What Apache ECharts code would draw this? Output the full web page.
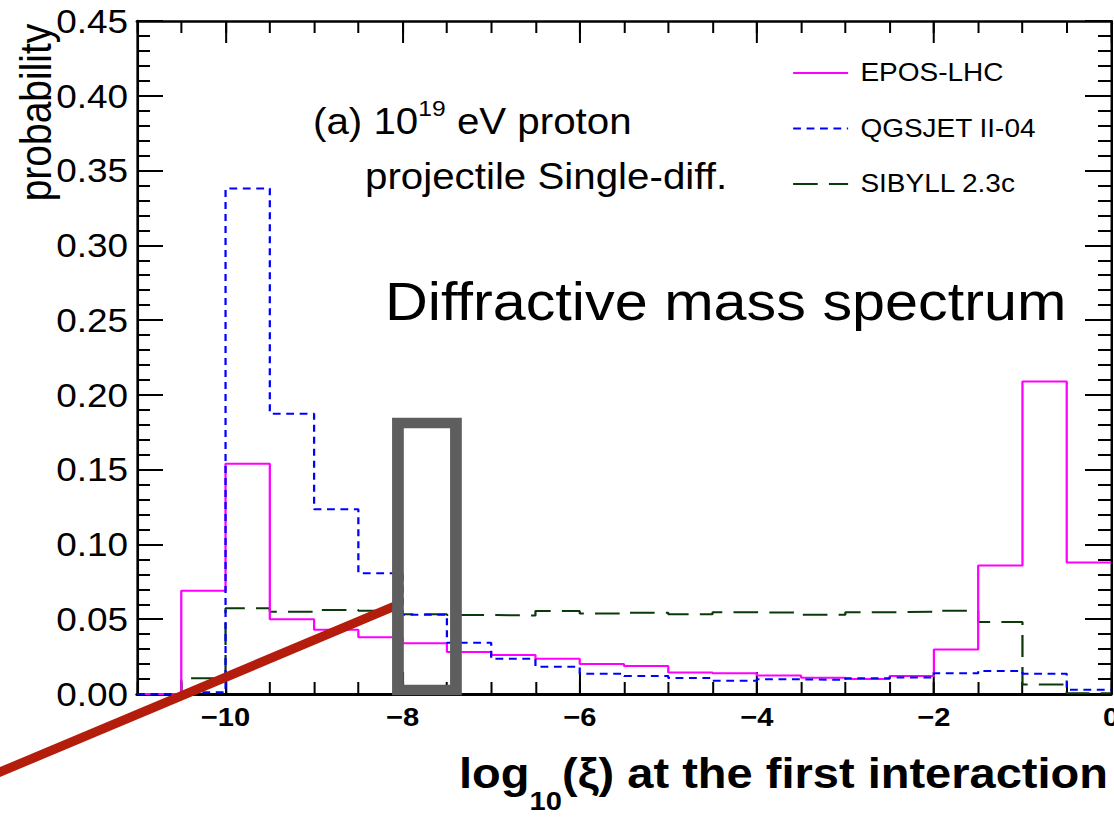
<!DOCTYPE html>
<html><head><meta charset="utf-8">
<script src="https://cdn.jsdelivr.net/npm/echarts@6/dist/echarts.min.js"></script>
<style>
html,body{margin:0;padding:0;background:#fff;overflow:hidden;}
#wrap{width:1114px;height:817px;overflow:hidden;position:relative;}
#c{width:995px;height:817px;transform:scaleX(1.119598);transform-origin:0 0;}
</style></head>
<body><div id="wrap"><div id="c"></div></div>
<script>
// ---------- data ----------
const binEdges = [-11, -10.5, -10, -9.5, -9, -8.5, -8, -7.5, -7, -6.5, -6, -5.5, -5, -4.5, -4, -3.5, -3, -2.5, -2, -1.5, -1, -0.5, 0];
const seriesNames = ['EPOS-LHC', 'QGSJET II-04', 'SIBYLL 2.3c'];
const eposLHC = [0.0, 0.069, 0.154, 0.050, 0.043, 0.038, 0.034, 0.028, 0.026, 0.0236, 0.0201, 0.0187, 0.0143, 0.0138, 0.0123, 0.0109, 0.0100, 0.0120, 0.0298, 0.086, 0.209, 0.088];
const qgsjet  = [0.0, 0.0011, 0.338, 0.1874, 0.1235, 0.0807, 0.0530, 0.0343, 0.0235, 0.0183, 0.0136, 0.0120, 0.0107, 0.0089, 0.0098, 0.0094, 0.0105, 0.0111, 0.0138, 0.0154, 0.0136, 0.0029];
const sibyll  = [0.0, 0.0105, 0.0573, 0.0550, 0.0562, 0.0557, 0.0533, 0.0528, 0.0525, 0.0555, 0.0539, 0.0544, 0.0533, 0.0546, 0.0544, 0.0530, 0.0546, 0.0550, 0.0557, 0.0482, 0.0064, 0.0005];
const xMajorTicks = [-10, -8, -6, -4, -2, 0];
const yTickValues = [0, 0.05, 0.10, 0.15, 0.20, 0.25, 0.30, 0.35, 0.40, 0.45];
const xTitle = ['log', '10', '(\u03BE) at the first interaction'];
const yTitle = 'probability';
const noteLines = ['(a) 10', '19', ' eV proton', 'projectile Single-diff.'];
const bigTitle = 'Diffractive mass spectrum';
// annotation overlays in data coordinates
const redLine = [[-12.62, -0.054], [-8.06, 0.0595]];
const greyBoxX = [-8.053, -7.398];
const greyBoxY = [0.0027, 0.1812];

// ---------- chart ----------
const S = 1114 / 995;
const FONT = 'Liberation Sans, Arial, Helvetica, sans-serif';
const chart = echarts.init(document.getElementById('c'), null, {renderer: 'svg'});

function hist(vals) {
  const d = vals.map((v, i) => [binEdges[i], v]);
  d.push([binEdges[binEdges.length - 1], vals[vals.length - 1]]);
  return d;
}
const minus = v => (v < 0 ? '\u2212' + Math.abs(v) : String(v));

const xBase = {type: 'value', min: binEdges[0], max: binEdges[binEdges.length - 1], interval: 0.5,
  splitLine: {show: false}, axisPointer: {show: false}};
const yBase = {type: 'value', min: yTickValues[0], max: yTickValues[yTickValues.length - 1], interval: 0.05,
  splitLine: {show: false}, minorSplitLine: {show: false}};

const option = {
  animation: false,
  backgroundColor: '#fff',
  grid: {left: 137 / S, top: 21, width: 974 / S, height: 673, containLabel: false, outerBoundsMode: 'none'},
  legend: {
    orient: 'vertical', left: 792 / S, top: 59, padding: 0, itemWidth: 55 / S, itemHeight: 12, itemGap: 27.5,
    selectedMode: false, data: seriesNames,
    itemStyle: {opacity: 0},
    textStyle: {fontFamily: FONT, fontSize: 25, color: '#000', lineHeight: 28, padding: [0, 0, 0, 6]}
  },
  xAxis: [
    Object.assign({}, xBase, {position: 'bottom',
      axisLine: {show: true, onZero: false, lineStyle: {color: '#000', width: 3}},
      axisTick: {show: true, inside: true, length: 12, lineStyle: {color: '#000', width: 1.8}},
      axisLabel: {show: false}}),
    Object.assign({}, xBase, {position: 'bottom',
      axisLine: {show: false, onZero: false},
      axisTick: {show: true, inside: true, length: 22, customValues: xMajorTicks, lineStyle: {color: '#000', width: 1.8}},
      axisLabel: {show: true, customValues: xMajorTicks, formatter: minus, margin: 10, showMaxLabel: true, showMinLabel: true,
        fontFamily: FONT, fontWeight: 'bold', fontSize: 26, color: '#000'}}),
    Object.assign({}, xBase, {position: 'top',
      axisLine: {show: true, onZero: false, lineStyle: {color: '#000', width: 2.5}},
      axisTick: {show: true, inside: true, length: 12, lineStyle: {color: '#000', width: 1.8}},
      axisLabel: {show: false}}),
    Object.assign({}, xBase, {position: 'top',
      axisLine: {show: false, onZero: false},
      axisTick: {show: true, inside: true, length: 22, customValues: xMajorTicks, lineStyle: {color: '#000', width: 1.8}},
      axisLabel: {show: false}})
  ],
  yAxis: [
    Object.assign({}, yBase, {position: 'left',
      axisLine: {show: true, onZero: false, lineStyle: {color: '#000', width: 2.4}},
      axisTick: {show: true, inside: true, length: 26 / S, lineStyle: {color: '#000', width: 2}},
      minorTick: {show: true, splitNumber: 5, length: 13 / S, lineStyle: {color: '#000', width: 2}},
      axisLabel: {show: true, margin: 8, formatter: v => v.toFixed(2), showMaxLabel: true, showMinLabel: true,
        fontFamily: FONT, fontSize: 33, color: '#000', padding: [6, 0, 0, 0]}}),
    Object.assign({}, yBase, {position: 'right',
      axisLine: {show: true, onZero: false, lineStyle: {color: '#000', width: 2.2}},
      axisTick: {show: true, inside: true, length: 26 / S, lineStyle: {color: '#000', width: 2}},
      minorTick: {show: true, splitNumber: 5, length: 13 / S, lineStyle: {color: '#000', width: 2}},
      axisLabel: {show: false}})
  ],
  series: [
    {name: seriesNames[0], type: 'line', step: 'end', symbol: 'none', xAxisIndex: 0, yAxisIndex: 0,
      data: hist(eposLHC), color: '#ff00ff', lineStyle: {color: '#ff00ff', width: 2, type: 'solid'}, z: 3},
    {name: seriesNames[1], type: 'line', step: 'end', symbol: 'none', xAxisIndex: 0, yAxisIndex: 0,
      data: hist(qgsjet), color: '#0000ff', lineStyle: {color: '#0000ff', width: 2, type: [7, 5]}, z: 4},
    {name: seriesNames[2], type: 'line', step: 'end', symbol: 'none', xAxisIndex: 0, yAxisIndex: 0,
      data: hist(sibyll), color: '#0a3a0a', lineStyle: {color: '#0a3a0a', width: 2, type: [22, 10]}, z: 2}
  ]
};
chart.setOption(option);

const px = (pt) => chart.convertToPixel({xAxisIndex: 0, yAxisIndex: 0}, pt);
const a = px(redLine[0]), b = px(redLine[1]);
const r0 = px([greyBoxX[0], greyBoxY[1]]), r1 = px([greyBoxX[1], greyBoxY[0]]);

chart.setOption({
  graphic: [
    {type: 'text', x: 36.5 / S, y: 112.5, rotation: Math.PI / 2, z: 50,
      style: {text: yTitle, fontFamily: FONT, fontSize: 39, fill: '#000', align: 'center', verticalAlign: 'middle'}},
    {type: 'text', x: 313 / S, y: 97, z: 50,
      style: {text: '{m|' + noteLines[0] + '}{s|' + noteLines[1] + '}{m|' + noteLines[2] + '}',
        align: 'left', verticalAlign: 'top', fill: '#000', fontFamily: FONT, fontSize: 36,
        rich: {m: {fontFamily: FONT, fontSize: 36, lineHeight: 36, padding: [6, 0, 0, 0], verticalAlign: 'top', fill: '#000'},
               s: {fontFamily: FONT, fontSize: 22, lineHeight: 22, verticalAlign: 'top', fill: '#000'}}}},
    {type: 'text', x: 365 / S, y: 176, z: 50,
      style: {text: noteLines[3], fontFamily: FONT, fontSize: 36, fill: '#000', align: 'left', verticalAlign: 'middle'}},
    {type: 'text', x: 385 / S, y: 301.5, z: 50,
      style: {text: bigTitle, fontFamily: FONT, fontSize: 53, fill: '#000', align: 'left', verticalAlign: 'middle'}},
    {type: 'text', x: 1108 / S, y: 752, z: 50,
      style: {text: '{m|' + xTitle[0] + '}{s|' + xTitle[1] + '}{m|' + xTitle[2] + '}',
        align: 'right', verticalAlign: 'top', fill: '#000', fontFamily: FONT, fontSize: 42, fontWeight: 'bold',
        rich: {m: {fontFamily: FONT, fontSize: 42, lineHeight: 42, fontWeight: 'bold', verticalAlign: 'top', fill: '#000'},
               s: {fontFamily: FONT, fontSize: 26, lineHeight: 26, fontWeight: 'bold', padding: [36, 0, 0, 0], verticalAlign: 'top', fill: '#000'}}}},
    {type: 'line', z: 100, shape: {x1: a[0], y1: a[1], x2: b[0], y2: b[1]},
      style: {stroke: '#b41c0c', lineWidth: 9}},
    {type: 'rect', z: 101, shape: {x: r0[0], y: r0[1], width: r1[0] - r0[0], height: r1[1] - r0[1]},
      style: {fill: 'none', stroke: '#5e5e5e', lineWidth: 10.5}}
  ]
});
</script>
</body></html>
